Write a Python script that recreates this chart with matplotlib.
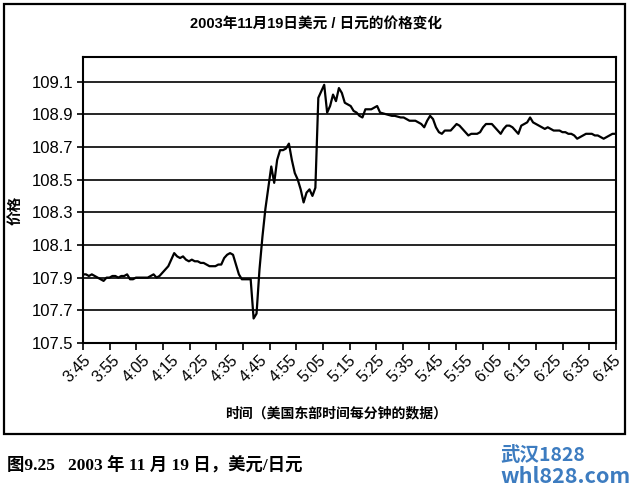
import matplotlib
matplotlib.use("Agg")
import matplotlib.pyplot as plt
from matplotlib.patches import Rectangle
import numpy as np

plt.rcParams['font.family'] = ['Liberation Sans', 'Noto Sans CJK SC', 'DejaVu Sans']

# USD/JPY minute prices from 3:45 to 6:46
prices = [
    107.92, 107.92, 107.91, 107.92, 107.91, 107.90, 107.89, 107.88, 107.90, 107.90,  # 3:45
    107.91, 107.91, 107.90, 107.91, 107.91, 107.92, 107.89, 107.89, 107.90, 107.90,  # 3:55
    107.90, 107.90, 107.90, 107.91, 107.92, 107.90, 107.91, 107.93, 107.95, 107.97,  # 4:05
    108.01, 108.05, 108.03, 108.02, 108.03, 108.01, 108.00, 108.01, 108.00, 108.00,  # 4:15
    107.99, 107.99, 107.98, 107.97, 107.97, 107.97, 107.98, 107.98, 108.02, 108.04,  # 4:25
    108.05, 108.04, 107.98, 107.92, 107.89, 107.89, 107.89, 107.89, 107.65, 107.68,  # 4:35
    107.95, 108.15, 108.32, 108.45, 108.58, 108.48, 108.62, 108.68, 108.68, 108.69,  # 4:45
    108.72, 108.62, 108.54, 108.50, 108.44, 108.36, 108.42, 108.44, 108.40, 108.45,  # 4:55
    109.00, 109.04, 109.08, 108.91, 108.95, 109.02, 108.98, 109.06, 109.03, 108.97,  # 5:05
    108.96, 108.95, 108.92, 108.91, 108.89, 108.88, 108.93, 108.93, 108.93, 108.94,  # 5:15
    108.95, 108.91, 108.905, 108.90, 108.895, 108.89, 108.89, 108.885, 108.88, 108.88,  # 5:25
    108.87, 108.86, 108.86, 108.86, 108.85, 108.84, 108.82, 108.86, 108.89, 108.87,  # 5:35
    108.82, 108.79, 108.78, 108.80, 108.80, 108.80, 108.82, 108.84, 108.83, 108.81,  # 5:45
    108.79, 108.77, 108.78, 108.78, 108.78, 108.79, 108.82, 108.84, 108.84, 108.84,  # 5:55
    108.82, 108.80, 108.78, 108.81, 108.83, 108.83, 108.82, 108.80, 108.78, 108.83,  # 6:05
    108.84, 108.85, 108.88, 108.85, 108.84, 108.83, 108.82, 108.81, 108.82, 108.81,  # 6:15
    108.80, 108.80, 108.80, 108.79, 108.79, 108.78, 108.78, 108.77, 108.75, 108.76,  # 6:25
    108.77, 108.78, 108.78, 108.78, 108.77, 108.77, 108.76, 108.75, 108.76, 108.77,  # 6:35
    108.78, 108.78,                                                                  # 6:45
]

time_labels = ['3:45', '3:55', '4:05', '4:15', '4:25', '4:35', '4:45', '4:55',
               '5:05', '5:15', '5:25', '5:35', '5:45', '5:55', '6:05', '6:15',
               '6:25', '6:35', '6:45']
label_minutes = [0, 10, 20, 30, 40, 50, 60, 70, 80, 90, 100, 110, 120, 130,
                 140, 150, 160, 170, 180]
price_ticks = [107.5, 107.7, 107.9, 108.1, 108.3, 108.5, 108.7, 108.9, 109.1]

fig = plt.figure(figsize=(6.29, 4.90), dpi=100)
ax = fig.add_axes([83 / 629, 1 - 343 / 490, (616 - 83) / 629, (343 - 57) / 490])

minutes = np.arange(len(prices))
ax.plot(minutes, prices, color='black', lw=1.6, zorder=3)

ax.set_xlim(0, 181.2)
ax.set_ylim(107.5, 109.25)

# horizontal grid lines at each price tick
ax.set_yticks(price_ticks)
ax.set_yticklabels([f'{p:.1f}' for p in price_ticks], fontsize=12)
for p in price_ticks[1:]:
    ax.axhline(p, color='black', lw=1.2, zorder=1)
ax.tick_params(axis='y', direction='out', length=4, width=1.2, pad=3)

# tick marks (every ~9 min) and labels (every 10 min) sit apart, as in the original
ax.xaxis.remove_overlapping_locs = False
ax.set_xticks(np.linspace(0, 181.2, 21))
ax.set_xticklabels([])
ax.tick_params(axis='x', which='major', direction='out', length=5, width=1.2)
ax.set_xticks(label_minutes, minor=True)
ax.set_xticklabels(time_labels, minor=True, rotation=45, ha='right',
                   rotation_mode='anchor', fontsize=11.5)
ax.tick_params(axis='x', which='minor', length=0, pad=7)

for s in ax.spines.values():
    s.set_linewidth(1.5)
    s.set_color('black')

fig.text(0.502, 1 - 25 / 490, '2003年11月19日美元 / 日元的价格变化',
         ha='center', va='center', fontsize=10.5, fontweight='bold')
fig.text(15 / 629, 1 - 210 / 490, '价格', rotation=90, ha='center',
         va='center', fontsize=10.5, fontweight='bold')
fig.text(336 / 629, 1 - 413 / 490, '时间（美国东部时间每分钟的数据）',
         ha='center', va='center', fontsize=10, fontweight='bold')

# outer frame round the chart
fig.patches.append(Rectangle((4 / 629, 1 - 434 / 490), 621 / 629, 430 / 490,
                             transform=fig.transFigure, fill=False,
                             edgecolor='black', lw=1.6))

fig.text(7 / 629, 1 - 466 / 490, '图9.25   2003 年 11 月 19 日，美元/日元',
         ha='left', va='center', fontsize=12.5, fontweight='bold',
         family=['Liberation Serif', 'Noto Sans CJK SC'])

fig.text(500 / 629, 1 - 455 / 490, '武汉1828', ha='left', va='center',
         fontsize=14, fontweight='bold', color='#3d7cc0',
         family=['Noto Sans CJK SC'])
fig.text(500 / 629, 1 - 476 / 490, 'whl828.com', ha='left', va='center',
         fontsize=15.5, fontweight='bold', color='#3d7cc0',
         family=['Noto Sans CJK SC'])

fig.savefig('out.png', dpi=100)
